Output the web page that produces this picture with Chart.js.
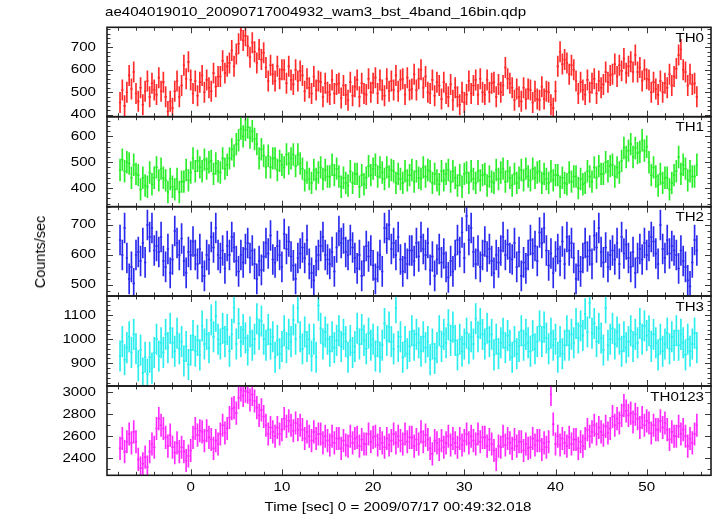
<!DOCTYPE html>
<html><head><meta charset="utf-8">
<script src="https://cdn.jsdelivr.net/npm/chart.js@4.4.1/dist/chart.umd.min.js"></script>
<style>
html,body{margin:0;padding:0;background:#fff;width:717px;height:516px;overflow:hidden}
#wrap{position:relative;width:717px;height:516px}
canvas{position:absolute;left:0;top:0}
.txt{position:absolute;font-family:"Liberation Sans",Arial,sans-serif;font-size:12.6px;line-height:14px;color:#000;white-space:nowrap}
</style></head><body>
<div id="wrap">
<canvas id="c0" width="717" height="516"></canvas>
<canvas id="c1" width="717" height="516"></canvas>
<canvas id="c2" width="717" height="516"></canvas>
<canvas id="c3" width="717" height="516"></canvas>
<canvas id="c4" width="717" height="516"></canvas>
<div class="txt" id="title" style="left:105px;top:5px;transform-origin:0 0;transform:scaleX(1.2)">ae404019010_20090717004932_wam3_bst_4band_16bin.qdp</div>
<div class="txt" id="xtitle" style="left:0;top:500px;width:796px;text-align:center;transform-origin:398px 0;transform:scaleX(1.2)">Time [sec] 0 = 2009/07/17 00:49:32.018</div>
<div class="txt" id="ytitle" style="left:40px;top:252px;font-size:14.5px;line-height:16px;transform:translate(-50%,-50%) rotate(-90deg)">Counts/sec</div>
</div>
<script>
// ---------------- data ----------------
const PANEL_NAMES = ['TH0', 'TH1', 'TH2', 'TH3', 'TH0123'];
const TIME_START = -7.75;   // first bin centre [sec]
const BIN_WIDTH = 0.25;     // 16 x 1/64 s
const X_TICK_LABELS = [0, 10, 20, 30, 40, 50];

const TH0 = [
455,510,440,500, 575,515,590,495, 460,520,445,505, 550,480,540,510,
490,565,505,545, 480,415,460,430, 505,550,480,530, 620,560,635,555,
495,550,485,545, 575,500,555,520, 505,585,525,570, 570,640,585,615,
630,685,615,670, 715,775,730,750, 705,655,720,680, 630,690,645,675,
610,550,620,580, 550,615,560,600, 600,540,615,555, 535,600,550,595,
575,505,560,520, 495,570,510,550, 545,480,540,500, 490,555,495,535,
540,475,530,490, 465,545,485,525, 555,480,540,495, 490,560,500,540,
565,495,555,510, 485,560,505,550, 510,575,505,555, 560,490,565,510,
515,580,510,560, 600,520,570,500, 495,555,485,545, 530,470,545,495,
480,535,465,520, 480,445,500,455, 490,550,495,530, 555,490,560,500,
490,555,500,540, 545,480,535,500, 530,610,560,540, 520,465,515,480,
460,520,470,515, 510,455,505,470, 465,525,470,505, 500,445,430,505,
615,680,625,645, 630,580,620,600, 550,495,545,510, 490,555,500,540,
560,495,550,520, 535,590,545,575, 580,625,570,620, 595,650,585,615,
635,590,665,590, 610,550,600,560, 555,500,545,515, 490,550,500,540,
520,580,530,570, 605,665,690,600, 590,530,580,535, 540,480
];
const TH1 = [
470,510,465,500, 495,440,490,455, 450,395,440,410, 405,460,415,440,
480,430,475,440, 430,385,435,405, 395,435,385,425, 425,470,430,460,
515,465,505,480, 465,510,475,500, 505,455,495,465, 460,515,475,490,
515,550,525,570, 585,630,600,625, 635,595,620,590, 570,515,550,525,
480,525,480,515, 515,470,505,490, 480,530,495,515, 530,485,530,495,
475,430,460,435, 420,470,435,460, 480,435,470,445, 445,490,450,475,
445,405,440,420, 410,465,420,455, 455,405,450,415, 440,485,450,475,
490,445,480,460, 435,480,445,470, 465,420,455,435, 420,465,430,450,
470,425,465,440, 435,480,445,470, 465,420,455,430, 415,465,430,455,
470,425,465,440, 410,450,405,455, 460,420,465,435, 420,465,430,450,
455,410,445,425, 420,470,435,460, 475,425,465,440, 410,455,420,440,
470,430,475,445, 430,475,440,460, 465,420,455,435, 420,465,430,450,
450,405,440,420, 415,460,425,445, 445,400,435,415, 420,465,445,425,
480,440,485,455, 455,500,465,485, 490,445,480,460, 505,555,520,545,
570,520,555,535, 540,585,545,560, 500,450,480,445, 410,455,420,440,
440,395,420,450, 465,520,455,490, 475,430,465,445, 445,490
];
const TH2 = [
650,600,690,590, 520,560,505,600, 610,580,640,575, 700,660,690,615,
630,610,660,580, 560,620,540,585, 680,640,600,655, 580,540,610,600,
645,600,570,620, 560,530,600,585, 660,625,690,600, 590,615,555,630,
600,660,625,580, 545,600,575,620, 640,590,615,570, 520,580,550,595,
640,605,665,585, 575,630,600,560, 670,620,645,595, 565,520,590,605,
625,590,650,570, 540,515,580,600, 630,660,600,585, 570,610,545,625,
680,640,655,610, 600,650,625,590, 555,600,530,580, 630,595,615,565,
520,560,600,545, 690,655,700,620, 640,600,660,585, 545,590,570,615,
615,580,640,595, 660,620,600,640, 550,595,530,585, 620,575,605,560,
525,580,545,600, 650,610,675,590, 730,650,690,610, 570,615,560,600,
645,595,620,580, 540,600,575,615, 660,600,635,590, 585,640,560,610,
530,575,555,600, 650,605,630,580, 675,640,690,615, 565,605,540,595,
620,580,645,570, 660,615,640,590, 520,565,545,590, 640,595,615,570,
665,625,690,610, 575,625,560,600, 615,585,640,570, 660,605,635,590,
560,610,540,590, 620,585,640,600, 630,660,645,605, 570,700,620,590,
650,605,630,615, 600,555,615,580, 560,515,495,575, 650,615
];
const TH3 = [
930,990,915,965, 1010,945,1020,960, 890,955,860,925, 855,925,880,945,
1000,930,985,945, 1020,965,1045,985, 950,1025,960,990, 910,970,895,955,
1015,950,995,935, 1055,980,1020,965, 1080,1010,1095,1000, 980,1045,990,1040,
950,1020,1130,980, 1065,990,1040,1005, 955,1030,975,1000, 1085,1020,1075,1000,
975,1040,980,1010, 925,995,940,970, 1035,965,1020,990, 1080,1000,1130,1010,
960,1030,970,1000, 930,1000,925,1140, 1045,980,1030,1000, 950,1010,965,995,
1035,970,1020,990, 925,995,945,970, 1045,980,1040,995, 960,1025,975,1000,
930,990,925,975, 1065,995,1050,990, 960,1130,970,1010, 925,990,940,970,
1035,975,1020,985, 950,1010,965,990, 915,980,920,965, 1035,970,1020,985,
1060,995,1050,995, 935,1000,950,980, 1025,960,1010,980, 1085,1010,1065,1020,
980,1045,990,1020, 935,1000,940,985, 1025,965,1015,975, 925,990,940,970,
1035,975,1020,985, 950,1015,960,990, 1055,990,1050,1005, 960,1025,975,1000,
925,990,940,975, 1035,975,1020,985, 1065,1005,1055,1015, 1105,1030,1150,1025,
1065,990,1045,1005, 955,1130,975,1000, 1045,980,1030,1000, 950,1010,965,990,
1035,970,1020,985, 1065,1000,1055,1015, 1035,970,1020,985, 935,1000,950,980,
1025,960,1010,975, 1035,975,1020,985, 935,1000,950,980, 1025,965
];
const TH0123 = [
2490,2580,2460,2550, 2620,2540,2640,2550, 2390,2310,2350,2410, 2320,2460,2530,2500,
2670,2760,2700,2670, 2590,2510,2610,2500, 2450,2540,2460,2500, 2460,2380,2420,2470,
2590,2670,2610,2650, 2640,2560,2650,2590, 2570,2490,2560,2530, 2620,2700,2630,2670,
2770,2850,2860,2810, 2950,3020,2970,3010, 3000,2930,2980,2920, 2860,2790,2840,2780,
2700,2620,2680,2640, 2600,2680,2620,2660, 2760,2690,2740,2700, 2650,2720,2660,2700,
2660,2580,2640,2600, 2560,2640,2580,2620, 2620,2540,2600,2560, 2520,2600,2540,2580,
2580,2490,2560,2520, 2510,2600,2540,2580, 2590,2510,2570,2530, 2530,2620,2550,2590,
2600,2520,2580,2540, 2500,2580,2520,2560, 2620,2540,2600,2560, 2530,2620,2550,2590,
2590,2510,2570,2530, 2640,2550,2610,2570, 2490,2440,2560,2540, 2480,2560,2500,2540,
2600,2520,2580,2540, 2500,2580,2520,2560, 2620,2540,2600,2560, 2530,2620,2550,2590,
2590,2510,2570,2530, 2470,2390,2510,2500, 2600,2520,2580,2540, 2490,2570,2510,2550,
2550,2470,2530,2490, 2500,2580,2520,2560, 2560,2480,2540,2500, 2550,2980,2710,2530,
2600,2520,2580,2540, 2510,2590,2530,2570, 2570,2490,2550,2510, 2580,2660,2600,2640,
2700,2620,2680,2640, 2610,2690,2630,2670, 2780,2700,2760,2720, 2790,2880,2830,2790,
2810,2730,2800,2760, 2680,2770,2700,2740, 2720,2630,2700,2660, 2660,2740,2680,2720,
2660,2570,2640,2600, 2600,2690,2620,2660, 2600,2510,2580,2540, 2620,2700
];
// typical 1-sigma error per band [counts/sec]
const ERRORS = [45, 42, 50, 63, 102];
const SERIES = [TH0, TH1, TH2, TH3, TH0123];

// ---------------- layout / style ----------------
const X_MIN = -9.18, X_MAX = 57.05;
const PANEL_STYLE = [
  {top: 27.3,  bottom: 116.7, min: 392,  max: 788,  major: 100, minor: 20,  color: '#ff2a2a'},
  {top: 116.7, bottom: 206.7, min: 328,  max: 676,  major: 100, minor: 20,  color: '#2aee2a'},
  {top: 206.7, bottom: 296,   min: 463,  max: 761,  major: 100, minor: 20,  color: '#2a2aee'},
  {top: 296,   bottom: 386,   min: 806,  max: 1179, major: 100, minor: 20,  color: '#2aeeee'},
  {top: 386,   bottom: 475.3, min: 2245, max: 3057, major: 200, minor: 100, color: '#ff2aff'}
];
const LEFT = 107, RIGHT = 711, W = 717, H = 516;
const FONT = '12.6px "Liberation Sans", Arial, sans-serif';
const SX = 1.2;

const TIME = SERIES[0].map((_, i) => TIME_START + i * BIN_WIDTH);

function stretchedText(ctx, s, x, y, align, baseline) {
  ctx.save();
  ctx.translate(x, y);
  ctx.scale(SX, 1);
  ctx.textAlign = align;
  ctx.textBaseline = baseline;
  ctx.fillText(s, 0, 0);
  ctx.restore();
}

const framePlugin = {
  id: 'frameTicks',
  afterDatasetsDraw(chart) {
    const idx = chart.options.plugins.frameTicks.index;
    const st = PANEL_STYLE[idx];
    const {ctx, chartArea: a} = chart;
    const xs = chart.scales.x, ys = chart.scales.y;
    ctx.save();
    ctx.strokeStyle = '#3a3a3a';
    ctx.lineWidth = 1;
    ctx.beginPath();
    for (let v = -8; v <= 56; v += 2) {
      const px = Math.round(xs.getPixelForValue(v)) + 0.5;
      const len = (v % 10 === 0) ? 6 : 3.5;
      ctx.moveTo(px, a.top); ctx.lineTo(px, a.top + len);
      ctx.moveTo(px, a.bottom); ctx.lineTo(px, a.bottom - len);
    }
    const start = Math.ceil(st.min / st.minor) * st.minor;
    for (let v = start; v <= st.max; v += st.minor) {
      const py = Math.round(ys.getPixelForValue(v)) + 0.5;
      const len = (v % st.major === 0) ? 6 : 3.5;
      ctx.moveTo(a.left, py); ctx.lineTo(a.left + len, py);
      ctx.moveTo(a.right, py); ctx.lineTo(a.right - len, py);
    }
    ctx.stroke();
    ctx.lineWidth = 1.6;
    ctx.strokeStyle = '#1a1a1a';
    ctx.strokeRect(a.left, a.top, a.right - a.left, a.bottom - a.top);
    ctx.fillStyle = '#000';
    ctx.font = FONT;
    for (let v = Math.ceil(st.min / st.major) * st.major; v <= st.max; v += st.major) {
      stretchedText(ctx, String(v), a.left - 11, ys.getPixelForValue(v), 'right', 'middle');
    }
    stretchedText(ctx, PANEL_NAMES[idx], a.right - 7, a.top + 14.5, 'right', 'alphabetic');
    if (idx === PANEL_NAMES.length - 1) {
      X_TICK_LABELS.forEach(v => {
        stretchedText(ctx, String(v), xs.getPixelForValue(v), a.bottom + 12.5, 'center', 'middle');
      });
    }
    ctx.restore();
  }
};

PANEL_NAMES.forEach((name, i) => {
  const st = PANEL_STYLE[i];
  const vals = SERIES[i];
  const err = ERRORS[i];
  new Chart(document.getElementById('c' + i), {
    type: 'line',
    data: {
      datasets: [
        {
          type: 'bar',
          label: name + ' error',
          data: TIME.map((t, j) => ({x: t, y: [vals[j] - err, vals[j] + err]})),
          backgroundColor: st.color,
          borderWidth: 0,
          barThickness: 1
        },
        {
          type: 'line',
          label: name,
          data: TIME.map((t, j) => ({x: t, y: vals[j]})),
          showLine: false,
          pointStyle: 'line',
          pointRadius: 1.15,
          pointHoverRadius: 1.15,
          pointBorderWidth: 1.6,
          pointBorderColor: st.color,
          pointBackgroundColor: st.color
        }
      ]
    },
    options: {
      responsive: false,
      animation: false,
      events: [],
      layout: {padding: {left: LEFT, right: W - RIGHT, top: st.top, bottom: H - st.bottom}},
      plugins: {legend: {display: false}, tooltip: {enabled: false}, frameTicks: {index: i}},
      scales: {
        x: {type: 'linear', min: X_MIN, max: X_MAX, display: false, offset: false},
        y: {type: 'linear', min: st.min, max: st.max, display: false}
      }
    },
    plugins: [framePlugin]
  });
});
</script>
</body></html>
